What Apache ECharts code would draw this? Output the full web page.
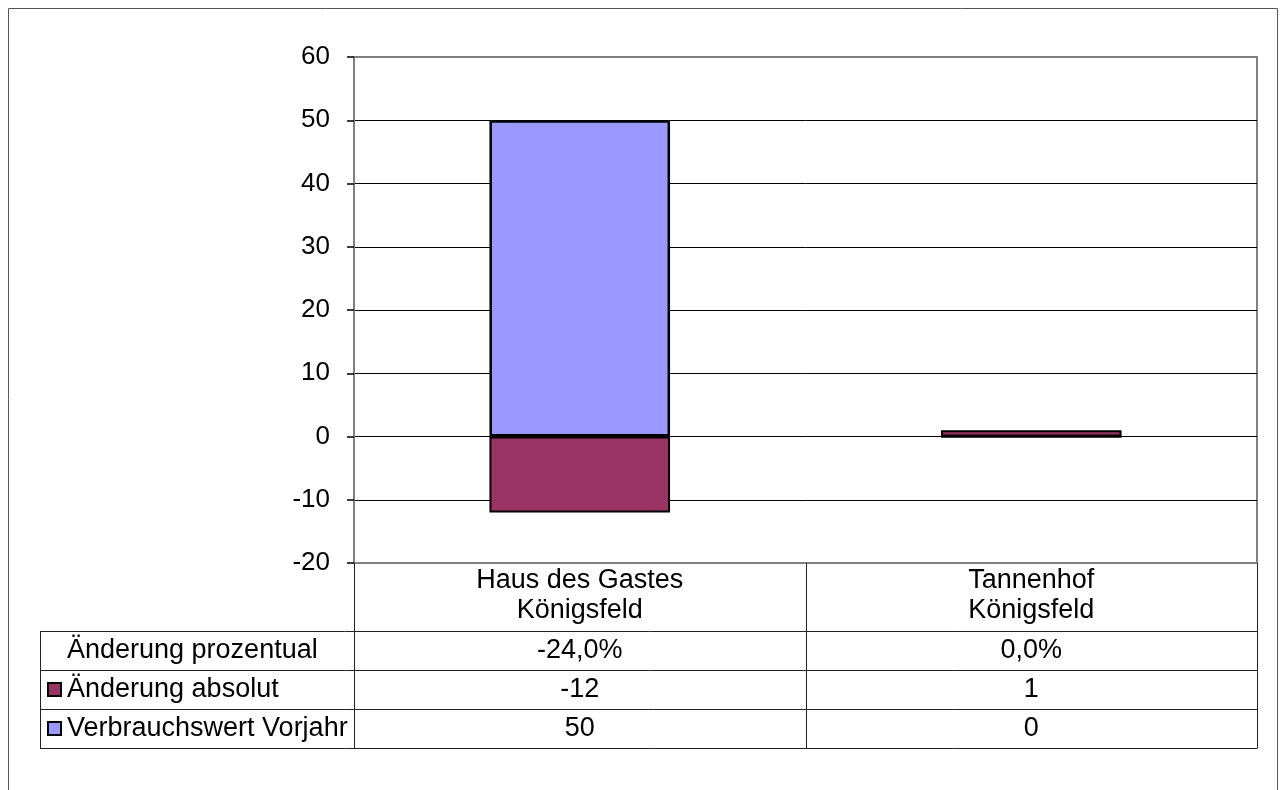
<!DOCTYPE html>
<html>
<head>
<meta charset="utf-8">
<script src="https://cdn.jsdelivr.net/npm/echarts@6.0.0/dist/echarts.min.js"></script>
<style>
  html, body { margin: 0; padding: 0; background: #fff; }
  #main { width: 1282px; height: 790px; }
</style>
</head>
<body>
<div id="main"></div>
<script>
// data
const categories = ['Haus des Gastes\nKönigsfeld', 'Tannenhof\nKönigsfeld']
const verbrauchVorjahr = [50, 0]
const aenderungAbsolut = [-12, 1]
const aenderungProzent = [-24.0, 0.0]
const yTicks = { min: -20, max: 60, interval: 10 }

const FONT = '"Liberation Sans", Arial, sans-serif'
const FS = 26
const FS_TABLE = 27
const gridLeft = 354
const gridTop = 57
const gridRightX = 1257
const gridBottomY = 563
const tableLeft = 40
const rowTops = [631, 670, 709, 748]

const chart = echarts.init(document.getElementById('main'))

const fmtPct = (v) => v.toFixed(1).replace('.', ',') + '%'

const buildTable = () => {
  const els = []
  const line = (x1, y1, x2, y2, color) => els.push({
    type: 'line',
    shape: { x1, y1, x2, y2 },
    style: { stroke: color || '#222', lineWidth: 1 },
    z: 10
  })
  const colW = (gridRightX - gridLeft) / categories.length
  // horizontal lines
  rowTops.forEach(y => line(tableLeft, y + 0.5, gridRightX + 0.5, y + 0.5))
  // vertical lines
  line(tableLeft + 0.5, rowTops[0], tableLeft + 0.5, rowTops[3])
  for (let i = 0; i <= categories.length; i++) {
    const x = Math.round(gridLeft + i * colW) + 0.5
    line(x, gridBottomY, x, rowTops[3])
  }

  const rows = [
    { label: 'Änderung prozentual', values: aenderungProzent.map(fmtPct), color: null },
    { label: 'Änderung absolut', values: aenderungAbsolut.map(String), color: '#993366' },
    { label: 'Verbrauchswert Vorjahr', values: verbrauchVorjahr.map(String), color: '#9999ff' }
  ]
  rows.forEach((r, i) => {
    const cy = (rowTops[i] + rowTops[i + 1]) / 2
    if (r.color) {
      els.push({
        type: 'rect',
        shape: { x: 48, y: Math.round(cy) - 7, width: 13, height: 13 },
        style: { fill: r.color, stroke: '#000', lineWidth: 2 },
        z: 11
      })
    }
    els.push({
      type: 'text',
      x: 67, y: cy,
      style: { text: r.label, font: FS_TABLE + 'px ' + FONT, fill: '#000', verticalAlign: 'middle', textAlign: 'left' },
      z: 11
    })
    r.values.forEach((v, j) => {
      const cx = chart.convertToPixel({ xAxisIndex: 0 }, j)
      els.push({
        type: 'text',
        x: cx, y: cy,
        style: { text: v, font: FS_TABLE + 'px ' + FONT, fill: '#000', verticalAlign: 'middle', textAlign: 'center' },
        z: 11
      })
    })
  })

  // outer chart border
  els.push({
    type: 'rect',
    shape: { x: 8.5, y: 8.5, width: 1269, height: 820 },
    style: { fill: 'none', stroke: '#555', lineWidth: 1 },
    z: 1
  })
  return els
}

const option = {
  animation: false,
  backgroundColor: '#fff',
  textStyle: { fontFamily: FONT },
  grid: {
    left: gridLeft,
    top: gridTop,
    right: 1282 - gridRightX,
    bottom: 790 - gridBottomY,
    show: true,
    borderColor: '#808080',
    borderWidth: 2,
    containLabel: false
  },
  xAxis: {
    type: 'category',
    data: categories,
    axisLine: { show: false, onZero: false },
    axisTick: { show: false },
    axisLabel: { fontSize: FS_TABLE, lineHeight: 30, color: '#000', margin: 3, fontFamily: FONT },
    splitLine: { show: false }
  },
  yAxis: {
    type: 'value',
    min: yTicks.min,
    max: yTicks.max,
    interval: yTicks.interval,
    axisLine: { show: true, lineStyle: { color: '#808080', width: 2 } },
    axisTick: { show: true, length: 7, lineStyle: { color: '#000', width: 1.5 } },
    axisLabel: { fontSize: FS, color: '#000', margin: 24, fontFamily: FONT },
    splitLine: { show: true, showMinLine: false, showMaxLine: false, lineStyle: { color: '#000', width: 1 } }
  },
  series: [
    {
      name: 'Verbrauchswert Vorjahr',
      type: 'bar',
      stack: 'total',
      barWidth: '40%',
      data: verbrauchVorjahr,
      itemStyle: { color: '#9999ff', borderColor: '#000', borderWidth: 2.5 }
    },
    {
      name: 'Änderung absolut',
      type: 'bar',
      stack: 'total',
      barWidth: '40%',
      data: aenderungAbsolut,
      itemStyle: { color: '#993366', borderColor: '#000', borderWidth: 2 }
    }
  ]
}

chart.setOption(option)
chart.setOption({ graphic: buildTable() })
</script>
</body>
</html>
